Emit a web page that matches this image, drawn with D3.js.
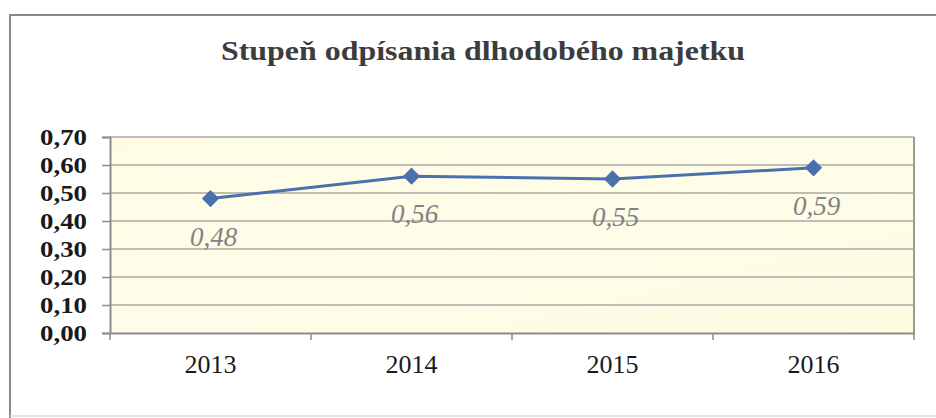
<!DOCTYPE html>
<html><head><meta charset="utf-8">
<script src="https://cdn.jsdelivr.net/npm/d3@7"></script>
<style>html,body{margin:0;padding:0;background:#fff;}svg{display:block;}
.serif{font-family:"Liberation Serif","Times New Roman",Times,serif;}</style>
</head><body>
<svg id="c" width="936" height="418"></svg>
<script>
const title = "Stupeň odpísania dlhodobého majetku";
const categories = ["2013", "2014", "2015", "2016"];
const values = [0.48, 0.56, 0.55, 0.59];
const yTicks = [0, 0.1, 0.2, 0.3, 0.4, 0.5, 0.6, 0.7];

const svg = d3.select("#c");
const fmt = v => v.toFixed(2).replace(".", ",");

const defs = svg.append("defs");
const grad = defs.append("linearGradient").attr("id", "bg").attr("x1", "0").attr("y1", "0").attr("x2", "1").attr("y2", "1");
grad.append("stop").attr("offset", "0%").attr("stop-color", "#fffce3");
grad.append("stop").attr("offset", "50%").attr("stop-color", "#fefde9");
grad.append("stop").attr("offset", "100%").attr("stop-color", "#fdfbe0");

// outer frame
svg.append("path").attr("d", "M10,418 L10,15 L940,15").attr("fill", "none").attr("stroke", "#8a8a8a").attr("stroke-width", 2);
svg.append("line").attr("x1", 10).attr("x2", 936).attr("y1", 416).attr("y2", 416).attr("stroke", "#dcdcdc").attr("stroke-width", 1.5);

const x0 = 110, x1 = 914, yTop = 137, yBot = 333;
const x = d3.scaleBand().domain(categories).range([x0, x1]);
const y = d3.scaleLinear().domain([0, 0.7]).range([yBot, yTop]);

svg.append("rect").attr("x", x0).attr("y", yTop).attr("width", x1 - x0).attr("height", yBot - yTop).attr("fill", "url(#bg)");

// gridlines
svg.append("g").selectAll("line").data(yTicks.slice(1)).join("line")
  .attr("x1", x0).attr("x2", x1).attr("y1", d => y(d)).attr("y2", d => y(d))
  .attr("stroke", "#a9a9a3").attr("stroke-width", 1.5);
// right border
svg.append("line").attr("x1", x1).attr("x2", x1).attr("y1", yTop).attr("y2", yBot).attr("stroke", "#9a9a96").attr("stroke-width", 2);

// y axis
const yAxis = svg.append("g").attr("transform", `translate(${x0},0)`)
  .call(d3.axisLeft(y).tickValues(yTicks).tickSize(8).tickPadding(15).tickFormat(fmt));
yAxis.attr("font-family", null).attr("font-size", null);
yAxis.select(".domain").attr("stroke", "#8c8c8c").attr("stroke-width", 2);
yAxis.selectAll(".tick line").attr("stroke", "#8c8c8c").attr("stroke-width", 1.5);
yAxis.selectAll("text").attr("class", "serif")
  .attr("font-weight", "bold").attr("font-size", 23).attr("fill", "#1a1a1a")
  .attr("textLength", 47).attr("lengthAdjust", "spacingAndGlyphs");

// x axis
const xAxis = svg.append("g").attr("transform", `translate(0,${yBot})`)
  .call(d3.axisBottom(x).tickSize(0).tickPadding(22));
xAxis.attr("font-family", null).attr("font-size", null);
xAxis.select(".domain").attr("stroke", "#8c8c8c").attr("stroke-width", 2);
xAxis.selectAll("text").attr("class", "serif")
  .attr("font-size", 26).attr("fill", "#1a1a1a");
// between-category tick marks
svg.append("g").selectAll("line").data(categories.map((c, i) => i).concat([categories.length])).join("line")
  .attr("x1", i => x0 + i * x.bandwidth()).attr("x2", i => x0 + i * x.bandwidth())
  .attr("y1", yBot).attr("y2", yBot + 7).attr("stroke", "#8c8c8c").attr("stroke-width", 1.5);

// line
const line = d3.line().x((d, i) => x(categories[i]) + x.bandwidth() / 2).y(d => y(d));
svg.append("path").datum(values).attr("d", line).attr("fill", "none").attr("stroke", "#4a71ad").attr("stroke-width", 3);

// markers
svg.append("g").selectAll("path").data(values).join("path")
  .attr("transform", (d, i) => `translate(${x(categories[i]) + x.bandwidth() / 2},${y(d)})`)
  .attr("d", d3.symbol().type(d3.symbolDiamond2).size(190))
  .attr("fill", "#4a71ad");

// data labels
svg.append("g").selectAll("text").data(values).join("text")
  .attr("class", "serif")
  .attr("x", (d, i) => x(categories[i]) + x.bandwidth() / 2 + 3)
  .attr("y", d => y(d) + 47)
  .attr("text-anchor", "middle")
  .attr("font-style", "italic").attr("font-size", 27).attr("fill", "#828282")
  .text(fmt);

// title
svg.append("text").attr("class", "serif").attr("x", 483).attr("y", 60).attr("text-anchor", "middle")
  .attr("font-weight", "bold").attr("font-size", 27).attr("fill", "#3c3c3c")
  .attr("textLength", 524).attr("lengthAdjust", "spacingAndGlyphs")
  .text(title);
</script>
</body></html>
